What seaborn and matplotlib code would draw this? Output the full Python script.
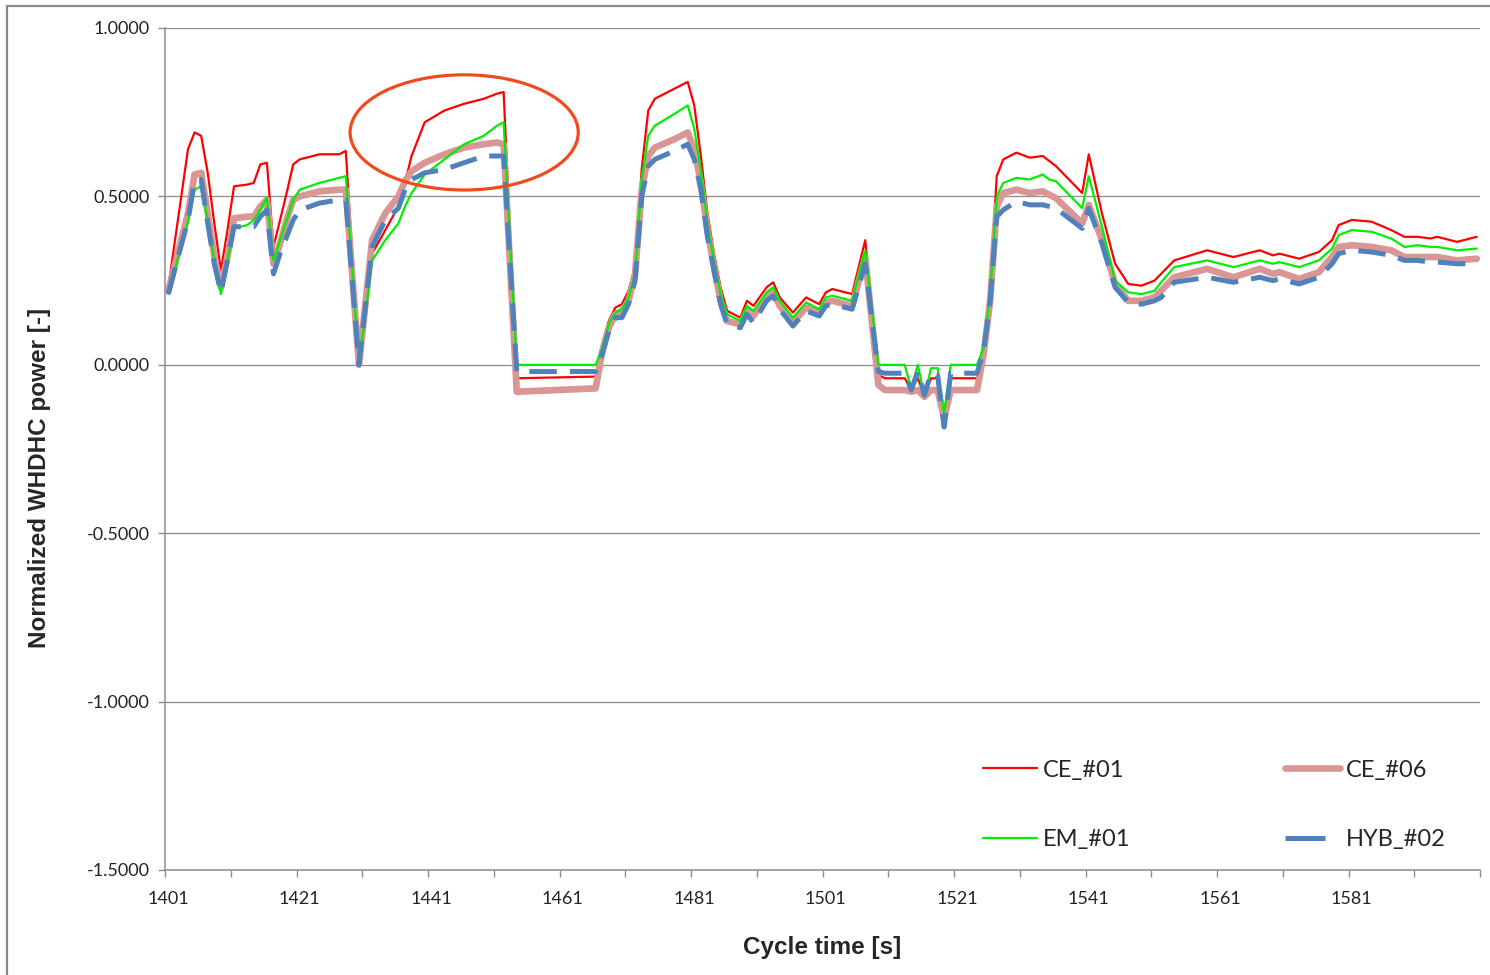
import numpy as np
import pandas as pd
import seaborn as sns
import matplotlib.pyplot as plt
from matplotlib.patches import Ellipse, Rectangle
from matplotlib.lines import Line2D

# cycle time [s] at the corners of the curves
zeit = [1401, 1404, 1405, 1406, 1407, 1408, 1409, 1410, 1411, 1413, 1414, 1415, 1416,
        1417, 1418, 1419, 1420, 1421, 1424, 1427, 1428, 1430, 1432, 1434, 1436, 1437,
        1438, 1440, 1443, 1446, 1449, 1451, 1452, 1454, 1466, 1467, 1468, 1469, 1470,
        1471, 1472, 1473, 1474, 1475, 1478, 1480, 1481, 1482, 1483, 1484, 1485, 1486,
        1488, 1489, 1490, 1492, 1493, 1494, 1496, 1498, 1500, 1501, 1502, 1505, 1507,
        1509, 1510, 1513, 1514, 1515, 1516, 1517, 1518, 1519, 1520, 1524, 1525, 1526,
        1527, 1528, 1530, 1532, 1534, 1535, 1536, 1540, 1541, 1543, 1545, 1547, 1549,
        1551, 1552, 1554, 1559, 1563, 1567, 1569, 1570, 1573, 1576, 1578, 1579, 1581,
        1584, 1587, 1589, 1591, 1593, 1594, 1597, 1600]

ce_01 = [0.23, 0.64, 0.69, 0.68, 0.57, 0.42, 0.28, 0.40, 0.53, 0.535, 0.54, 0.595, 0.60,
         0.35, 0.43, 0.51, 0.595, 0.61, 0.625, 0.625, 0.635, 0.0, 0.33, 0.40, 0.47, 0.54,
         0.62, 0.72, 0.755, 0.775, 0.79, 0.805, 0.81, -0.04, -0.035, 0.06, 0.13, 0.17, 0.18,
         0.22, 0.29, 0.58, 0.755, 0.79, 0.82, 0.84, 0.77, 0.62, 0.45, 0.33, 0.23, 0.16,
         0.14, 0.19, 0.175, 0.23, 0.245, 0.20, 0.155, 0.20, 0.18, 0.215, 0.225, 0.21, 0.37,
         -0.03, -0.04, -0.04, -0.07, -0.04, -0.09, -0.04, -0.04, -0.15, -0.04, -0.04, 0.05,
         0.22, 0.56, 0.61, 0.63, 0.615, 0.62, 0.605, 0.59, 0.51, 0.625, 0.45, 0.30, 0.24,
         0.235, 0.25, 0.27, 0.31, 0.34, 0.32, 0.34, 0.325, 0.33, 0.315, 0.335, 0.37, 0.415,
         0.43, 0.425, 0.40, 0.38, 0.38, 0.375, 0.38, 0.365, 0.38]

ce_06 = [0.22, 0.45, 0.565, 0.57, 0.45, 0.32, 0.23, 0.32, 0.435, 0.44, 0.44, 0.47, 0.49,
         0.30, 0.36, 0.43, 0.49, 0.50, 0.515, 0.52, 0.52, 0.0, 0.37, 0.45, 0.50, 0.545,
         0.575, 0.60, 0.625, 0.645, 0.655, 0.66, 0.655, -0.08, -0.07, 0.04, 0.11, 0.15, 0.16,
         0.19, 0.27, 0.52, 0.62, 0.645, 0.67, 0.69, 0.64, 0.54, 0.40, 0.29, 0.19, 0.13,
         0.12, 0.16, 0.145, 0.20, 0.215, 0.175, 0.125, 0.17, 0.155, 0.185, 0.19, 0.175, 0.32,
         -0.06, -0.075, -0.075, -0.08, -0.075, -0.095, -0.075, -0.075, -0.16, -0.075, -0.075,
         0.03, 0.19, 0.47, 0.51, 0.52, 0.51, 0.515, 0.505, 0.495, 0.42, 0.475, 0.37, 0.24,
         0.19, 0.19, 0.20, 0.22, 0.26, 0.285, 0.26, 0.285, 0.27, 0.275, 0.255, 0.275, 0.32,
         0.35, 0.355, 0.35, 0.34, 0.32, 0.32, 0.32, 0.32, 0.31, 0.315]

em_01 = [0.21, 0.425, 0.52, 0.53, 0.43, 0.31, 0.21, 0.31, 0.405, 0.415, 0.43, 0.46, 0.495,
         0.31, 0.37, 0.43, 0.49, 0.52, 0.54, 0.555, 0.56, 0.0, 0.31, 0.37, 0.42, 0.47,
         0.51, 0.565, 0.61, 0.655, 0.68, 0.71, 0.72, 0.0, 0.0, 0.05, 0.12, 0.155, 0.165,
         0.20, 0.27, 0.55, 0.68, 0.71, 0.745, 0.77, 0.70, 0.58, 0.42, 0.31, 0.21, 0.15,
         0.13, 0.175, 0.16, 0.215, 0.23, 0.19, 0.14, 0.185, 0.165, 0.20, 0.205, 0.19, 0.34,
         0.0, 0.0, 0.0, -0.07, 0.0, -0.095, -0.01, -0.01, -0.145, 0.0, 0.0, 0.05,
         0.21, 0.50, 0.54, 0.555, 0.55, 0.565, 0.55, 0.545, 0.465, 0.56, 0.41, 0.25, 0.215,
         0.21, 0.22, 0.245, 0.29, 0.31, 0.29, 0.31, 0.30, 0.305, 0.29, 0.31, 0.345, 0.385,
         0.40, 0.395, 0.375, 0.35, 0.355, 0.35, 0.35, 0.34, 0.345]

hyb_02 = [0.21, 0.43, 0.545, 0.55, 0.42, 0.30, 0.215, 0.31, 0.41, 0.41, 0.41, 0.44, 0.46,
          0.27, 0.33, 0.38, 0.43, 0.46, 0.48, 0.49, 0.49, 0.0, 0.35, 0.43, 0.465, 0.52,
          0.55, 0.57, 0.58, 0.60, 0.62, 0.62, 0.62, -0.02, -0.02, 0.03, 0.10, 0.14, 0.14,
          0.18, 0.25, 0.50, 0.59, 0.61, 0.635, 0.655, 0.61, 0.52, 0.38, 0.28, 0.18, 0.12,
          0.11, 0.15, 0.125, 0.19, 0.205, 0.165, 0.115, 0.16, 0.145, 0.175, 0.18, 0.165, 0.30,
          -0.02, -0.025, -0.025, -0.075, -0.02, -0.09, -0.025, -0.03, -0.185, -0.025, -0.025,
          0.04, 0.19, 0.44, 0.46, 0.485, 0.475, 0.475, 0.47, 0.465, 0.405, 0.465, 0.36, 0.23,
          0.185, 0.18, 0.19, 0.20, 0.245, 0.26, 0.245, 0.26, 0.25, 0.255, 0.24, 0.26, 0.30,
          0.33, 0.34, 0.335, 0.325, 0.31, 0.31, 0.305, 0.305, 0.30, 0.30]

x_labels = [1401, 1421, 1441, 1461, 1481, 1501, 1521, 1541, 1561, 1581]
y_ticks = [-1.5, -1.0, -0.5, 0.0, 0.5, 1.0]

df = pd.DataFrame({"zeit": zeit, "CE_#01": ce_01, "CE_#06": ce_06,
                   "EM_#01": em_01, "HYB_#02": hyb_02})

sns.set_style("white")
plt.rcParams["font.family"] = ["Lato", "DejaVu Sans"]

fig = plt.figure(figsize=(14.9, 9.75), dpi=100)
ax = fig.add_axes([165 / 1490, 1 - 870 / 975, 1315 / 1490, 842 / 975])

grau = "#8c8c8c"

# Reihenfolge wie in Excel: spaeter gezeichnet liegt oben
sns.lineplot(data=df, x="zeit", y="CE_#01", ax=ax, color="#ff0000", linewidth=1.6)
sns.lineplot(data=df, x="zeit", y="CE_#06", ax=ax, color="#d99694", linewidth=4.8)
sns.lineplot(data=df, x="zeit", y="EM_#01", ax=ax, color="#00ee00", linewidth=1.6)
sns.lineplot(data=df, x="zeit", y="HYB_#02", ax=ax, color="#4f81bd", linewidth=3.6)
ax.lines[-1].set_dashes((5.5, 2.6))

# Markierung
ax.add_patch(Ellipse((1446, 0.69), 34.7, 0.342, fill=False,
                     edgecolor="#f24a1f", linewidth=2.3, zorder=5))

ax.set_xlim(1400.5, 1600.5)
ax.set_ylim(-1.5, 1.0)
ax.set_yticks(y_ticks)
ax.set_yticklabels([f"{v:.4f}" for v in y_ticks])
ax.set_xticks(x_labels)
ax.set_xticks(np.arange(1400.5, 1601, 10), minor=True)
ax.tick_params(axis="x", which="major", length=0, pad=15, labelsize=13, colors="#222222")
ax.tick_params(axis="x", which="minor", length=5, width=1, color=grau, direction="out")
ax.tick_params(axis="y", which="major", length=5, width=1, color=grau, direction="out",
               pad=6, labelsize=13, labelcolor="#222222")
ax.tick_params(bottom=True, left=True, which="both")

ax.grid(axis="y", color=grau, linewidth=0.9)
ax.grid(axis="x", visible=False)
ax.set_axisbelow(True)
for s in ["top", "right"]:
    ax.spines[s].set_visible(False)
for s in ["left", "bottom"]:
    ax.spines[s].set_color(grau)
    ax.spines[s].set_linewidth(1.1)

fett = {"family": ["Liberation Sans", "DejaVu Sans"], "weight": "bold", "size": 17.5}
ax.set_xlabel("Cycle time [s]", fontdict=fett)
ax.set_ylabel("Normalized WHDHC power [-]", fontdict=fett)
ax.xaxis.set_label_coords(0.5, -0.078)
ax.yaxis.set_label_coords(-0.087, 0.466)

# Legende 2x2 unten rechts
handles = [
    Line2D([], [], color="#ff0000", linewidth=1.6),
    Line2D([], [], color="#00ee00", linewidth=1.6),
    Line2D([], [], color="#d99694", linewidth=4.8),
    Line2D([], [], color="#4f81bd", linewidth=3.6, dashes=(8, 6)),
]
ax.legend(handles, ["CE_#01", "EM_#01", "CE_#06", "HYB_#02"], ncol=2,
          loc="upper left", bbox_to_anchor=(0.622, 0.131), frameon=False,
          fontsize=17, handlelength=2.3, handletextpad=0.25,
          columnspacing=6.55, labelspacing=2.05, borderaxespad=0, borderpad=0)

# Rahmen des Diagrammbereichs
fig.patches.append(Rectangle((7 / 1490, -0.1), 2.0, 1 - 6 / 975 + 0.1,
                             transform=fig.transFigure, fill=False,
                             edgecolor="#8a8a8a", linewidth=1.6))

fig.savefig("out.png", dpi=100, facecolor="white")
